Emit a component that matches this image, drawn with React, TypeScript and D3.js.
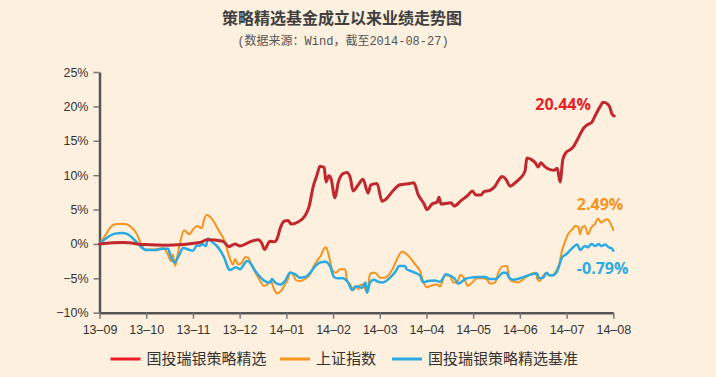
import React, { useEffect, useRef } from "react";
import * as d3 from "d3";

// ---- data (x = months since 2013-09, y = cumulative return in %) ----
const monthLabels = ["13–09","13–10","13–11","13–12","14–01","14–02","14–03","14–04","14–05","14–06","14–07","14–08"];
const yTickValues = [-10, -5, 0, 5, 10, 15, 20, 25];

const fundSeries: [number, number][] = [
  [0,0],[0.5,0.2],[0.97,-0.1],[1.45,-0.2],[2.15,0.2],[2.3,0.6],[2.64,0.4],[2.77,-0.4],[2.9,0],[3.01,-0.3],
  [3.22,0.3],[3.4,0.6],[3.48,0],[3.53,-0.8],[3.65,0.4],[3.74,0.3],[3.8,0.7],[3.87,2.3],[3.95,3.3],[4.04,3.4],
  [4.1,2.9],[4.25,3.2],[4.4,4.1],[4.49,5.5],[4.57,8.2],[4.66,10.1],[4.72,11.3],[4.81,11.1],[4.85,9.0],[4.91,9.9],
  [4.96,9.4],[5.04,6.7],[5.11,8.9],[5.21,10.2],[5.3,10.4],[5.37,9.6],[5.43,7.7],[5.54,8.6],[5.64,9.4],[5.75,7.4],
  [5.81,8.6],[5.94,8.8],[6.05,6.2],[6.13,6.5],[6.28,7.7],[6.43,8.6],[6.65,8.8],[6.73,8.9],[6.82,7.2],[6.95,5.8],
  [7.01,5.0],[7.12,5.8],[7.23,6.1],[7.27,6.8],[7.31,5.8],[7.44,5.9],[7.53,6.0],[7.59,5.5],[7.74,6.3],[7.89,7.1],
  [7.98,7.7],[8.06,7.1],[8.17,7.1],[8.23,7.6],[8.36,7.8],[8.47,8.4],[8.53,9.1],[8.62,9.8],[8.7,9.4],[8.79,8.4],
  [8.9,8.9],[9.0,9.5],[9.11,10.6],[9.15,12.5],[9.24,12.3],[9.33,11.8],[9.39,11.2],[9.45,11.8],[9.54,11.2],[9.65,10.8],
  [9.73,10.7],[9.8,11.0],[9.86,9.0],[9.92,12.3],[9.99,13.3],[10.08,13.7],[10.14,14.1],[10.25,15.4],[10.35,16.7],[10.46,17.4],
  [10.54,17.7],[10.63,18.9],[10.72,20.0],[10.78,20.6],[10.87,20.4],[10.93,19.8],[10.97,18.9],[11.02,18.6]
];

const indexSeries: [number, number][] = [
  [0,0],[0.12,1.2],[0.22,2.3],[0.37,2.9],[0.55,2.9],[0.67,2.5],[0.8,1.4],[0.89,0],[0.97,-0.8],[1.19,-0.8],
  [1.36,-0.6],[1.45,-1.3],[1.53,-2.5],[1.57,-1.5],[1.62,-3.2],[1.66,-2.0],[1.72,0],[1.81,2.0],[1.92,1.4],[2.0,2.1],
  [2.09,2.6],[2.19,2.3],[2.24,3.6],[2.3,4.2],[2.41,3.6],[2.54,2.1],[2.69,0.2],[2.77,-1.7],[2.86,-3.0],[2.9,-2.2],
  [2.97,-3.0],[3.05,-2.7],[3.12,-1.9],[3.18,-2.0],[3.27,-3.3],[3.4,-4.9],[3.52,-6.1],[3.61,-5.8],[3.67,-5.3],[3.72,-6.3],
  [3.8,-7.2],[3.89,-6.8],[3.97,-5.9],[4.04,-5.0],[4.08,-4.1],[4.14,-4.4],[4.21,-5.3],[4.29,-5.4],[4.4,-5.1],[4.51,-4.4],
  [4.59,-3.2],[4.68,-2.2],[4.74,-1.7],[4.79,-0.9],[4.85,-0.5],[4.91,-1.7],[4.98,-3.7],[5.06,-4.2],[5.15,-3.7],[5.26,-3.7],
  [5.3,-5.3],[5.37,-5.9],[5.43,-6.7],[5.5,-6.2],[5.54,-6.6],[5.58,-6.0],[5.64,-5.9],[5.73,-7.1],[5.79,-4.4],[5.84,-4.2],
  [5.9,-4.2],[6.01,-4.9],[6.11,-4.9],[6.18,-4.6],[6.27,-3.7],[6.37,-2.2],[6.48,-1.1],[6.54,-1.3],[6.65,-2.0],[6.76,-3.0],
  [6.86,-3.9],[6.93,-5.4],[7.01,-6.3],[7.12,-6.0],[7.23,-5.9],[7.29,-6.2],[7.4,-4.6],[7.5,-4.6],[7.57,-5.6],[7.66,-5.6],
  [7.72,-4.5],[7.81,-5.0],[7.88,-6.1],[7.98,-5.6],[8.08,-5.0],[8.21,-5.0],[8.3,-5.2],[8.36,-5.8],[8.47,-5.6],[8.53,-4.3],
  [8.62,-3.3],[8.73,-3.2],[8.77,-4.9],[8.83,-5.4],[8.96,-5.6],[9.11,-4.9],[9.26,-4.3],[9.35,-4.2],[9.37,-5.1],[9.43,-5.4],
  [9.5,-4.6],[9.58,-4.2],[9.62,-4.6],[9.71,-4.5],[9.78,-3.9],[9.84,-3.0],[9.9,-1.0],[9.97,0.4],[10.03,1.4],[10.12,2.1],
  [10.18,2.6],[10.25,2.5],[10.29,1.4],[10.33,2.4],[10.39,2.6],[10.46,1.4],[10.53,2.4],[10.61,2.9],[10.67,3.7],[10.74,3.1],
  [10.8,3.4],[10.87,3.6],[10.93,3.1],[11.0,2.0]
];

const benchSeries: [number, number][] = [
  [0,0],[0.16,0.9],[0.33,1.5],[0.48,1.6],[0.61,1.4],[0.76,0.5],[0.87,-0.3],[1.0,-0.9],[1.19,-0.9],[1.34,-0.7],
  [1.47,-0.7],[1.51,-1.5],[1.6,-2.7],[1.7,-1.7],[1.79,-0.6],[1.94,-0.9],[2.0,-1.0],[2.09,-0.2],[2.15,-0.3],[2.19,0],
  [2.28,-0.3],[2.32,0.8],[2.41,0.3],[2.54,-0.5],[2.67,-2.0],[2.77,-3.7],[2.79,-3.8],[2.92,-3.4],[3.01,-3.7],[3.07,-3.2],
  [3.16,-2.5],[3.22,-2.7],[3.33,-3.9],[3.44,-4.8],[3.54,-5.4],[3.65,-5.6],[3.69,-5.1],[3.76,-5.6],[3.87,-5.9],[3.97,-5.4],
  [4.08,-4.2],[4.19,-4.4],[4.29,-4.9],[4.4,-4.8],[4.51,-4.2],[4.61,-3.3],[4.72,-2.7],[4.83,-2.6],[4.94,-3.3],[5.02,-4.8],
  [5.11,-5.0],[5.21,-5.0],[5.32,-5.6],[5.41,-6.7],[5.48,-6.2],[5.54,-6.2],[5.62,-6.4],[5.69,-5.6],[5.73,-7.1],[5.79,-5.6],
  [5.88,-5.2],[5.96,-5.5],[6.07,-5.6],[6.22,-4.9],[6.35,-3.9],[6.41,-3.2],[6.54,-3.2],[6.58,-3.7],[6.65,-3.9],[6.76,-4.2],
  [6.86,-4.6],[6.93,-5.6],[7.03,-5.4],[7.18,-5.3],[7.29,-5.5],[7.42,-4.4],[7.5,-4.6],[7.61,-5.1],[7.68,-5.8],[7.83,-5.1],
  [7.94,-4.9],[8.11,-4.8],[8.26,-4.8],[8.36,-5.1],[8.49,-5.1],[8.58,-4.5],[8.64,-4.2],[8.71,-4.2],[8.77,-4.9],[8.86,-5.2],
  [9.0,-5.0],[9.21,-4.5],[9.37,-4.3],[9.41,-5.0],[9.5,-4.9],[9.57,-4.2],[9.62,-4.5],[9.69,-4.6],[9.78,-4.2],[9.84,-3.2],
  [9.9,-2.0],[9.99,-1.5],[10.08,-0.9],[10.17,-0.3],[10.23,-0.1],[10.29,-0.9],[10.39,-0.3],[10.46,-0.5],[10.53,0],[10.62,-0.3],
  [10.69,0.0],[10.74,-0.3],[10.83,-0.1],[10.9,-0.5],[10.96,-0.6],[11.0,-1.0]
];

const seriesNames = ["国投瑞银策略精选", "上证指数", "国投瑞银策略精选基准"];
const endLabels = ["20.44%", "2.49%", "-0.79%"];
const titleText = "策略精选基金成立以来业绩走势图";
const subtitleText = "(数据来源：Wind，截至2014-08-27)";

const W = 716, H = 377;
const BG = "#fdf0de";
const lineColors = ["#c1272d", "#f7931e", "#29abe2"];
const legendColors = ["#ed1c24", "#f7941d", "#29abe2"];
const labelColors = ["#e62129", "#f7931e", "#29abe2"];

export default function App() {
  const xAxisRef = useRef<SVGGElement>(null);
  const yAxisRef = useRef<SVGGElement>(null);

  const x = d3.scaleLinear().domain([0, 11]).range([99.5, 613.3]);
  const y = d3.scaleLinear().domain([-10, 25]).range([312.7, 72]);

  useEffect(() => {
    document.body.style.margin = "0";
    document.body.style.background = BG;
    const xa = d3.axisBottom(x)
      .tickValues(d3.range(12))
      .tickFormat((d: any) => monthLabels[d as number])
      .tickSizeInner(6).tickSizeOuter(0).tickPadding(6);
    const ya = d3.axisLeft(y)
      .tickValues(yTickValues)
      .tickFormat((d: any) => `${d < 0 ? "−" : ""}${Math.abs(d)}%`)
      .tickSizeInner(6).tickSizeOuter(0).tickPadding(5);
    const gx = d3.select(xAxisRef.current!);
    gx.call(xa as any);
    const gy = d3.select(yAxisRef.current!);
    gy.call(ya as any);
    [gx, gy].forEach((g) => {
      g.select(".domain").attr("stroke", "#555").attr("stroke-width", 2.5);
      g.selectAll(".tick line").attr("stroke", "#777").attr("stroke-width", 1.5);
      g.selectAll(".tick text")
        .attr("fill", "#333")
        .style("font-family", "'Liberation Sans', Arial, sans-serif")
        .style("font-size", "12.5px");
    });
  }, []);

  const line = d3.line<[number, number]>()
    .x((d) => x(d[0]))
    .y((d) => y(d[1]))
    .curve(d3.curveMonotoneX);

  const all = [fundSeries, indexSeries, benchSeries];
  const labelPos: [number, number][] = [[9.33, 19.5], [10.22, 4.9], [10.22, -4.35]];
  const legendX = [110.5, 280, 392];

  return (
    <svg width={W} height={H} style={{ position: "absolute", left: 0, top: 0, display: "block" }}>
      <rect x={0} y={0} width={W} height={H} fill={BG} />
      <text x={342} y={24} textAnchor="middle" fill="#404040"
        style={{ fontFamily: "'Noto Sans CJK SC', sans-serif", fontWeight: 700, fontSize: 16 }}>{titleText}</text>
      <text x={343} y={45} textAnchor="middle" fill="#555"
        style={{ fontFamily: "'Liberation Mono', 'Noto Sans CJK SC', monospace", fontSize: 12 }}>{subtitleText}</text>

      <g ref={yAxisRef} transform={`translate(${x(0)},0)`} />
      <g ref={xAxisRef} transform={`translate(0,${y(-10)})`} />

      {[indexSeries, benchSeries, fundSeries].map((s) => {
        const idx = all.indexOf(s);
        return (
          <path key={idx} d={line(s) || ""} fill="none" stroke={lineColors[idx]}
            strokeWidth={idx === 0 ? 3 : idx === 1 ? 2 : 2.5} strokeLinejoin="round" strokeLinecap="round" />
        );
      })}

      {endLabels.map((t, i) => (
        <text key={t} x={x(labelPos[i][0])} y={y(labelPos[i][1])} fill={labelColors[i]}
          style={{ fontFamily: "'Open Sans', sans-serif", fontWeight: 700, fontSize: 16 }}>{t}</text>
      ))}

      {seriesNames.map((n, i) => (
        <g key={n} transform={`translate(${legendX[i]},359)`}>
          <line x1={0} x2={30} y1={0} y2={0} stroke={legendColors[i]} strokeWidth={3} />
          <text x={36} y={0} dy="0.36em" fill="#333"
            style={{ fontFamily: "'Noto Sans CJK SC', sans-serif", fontSize: 15 }}>{n}</text>
        </g>
      ))}
    </svg>
  );
}
